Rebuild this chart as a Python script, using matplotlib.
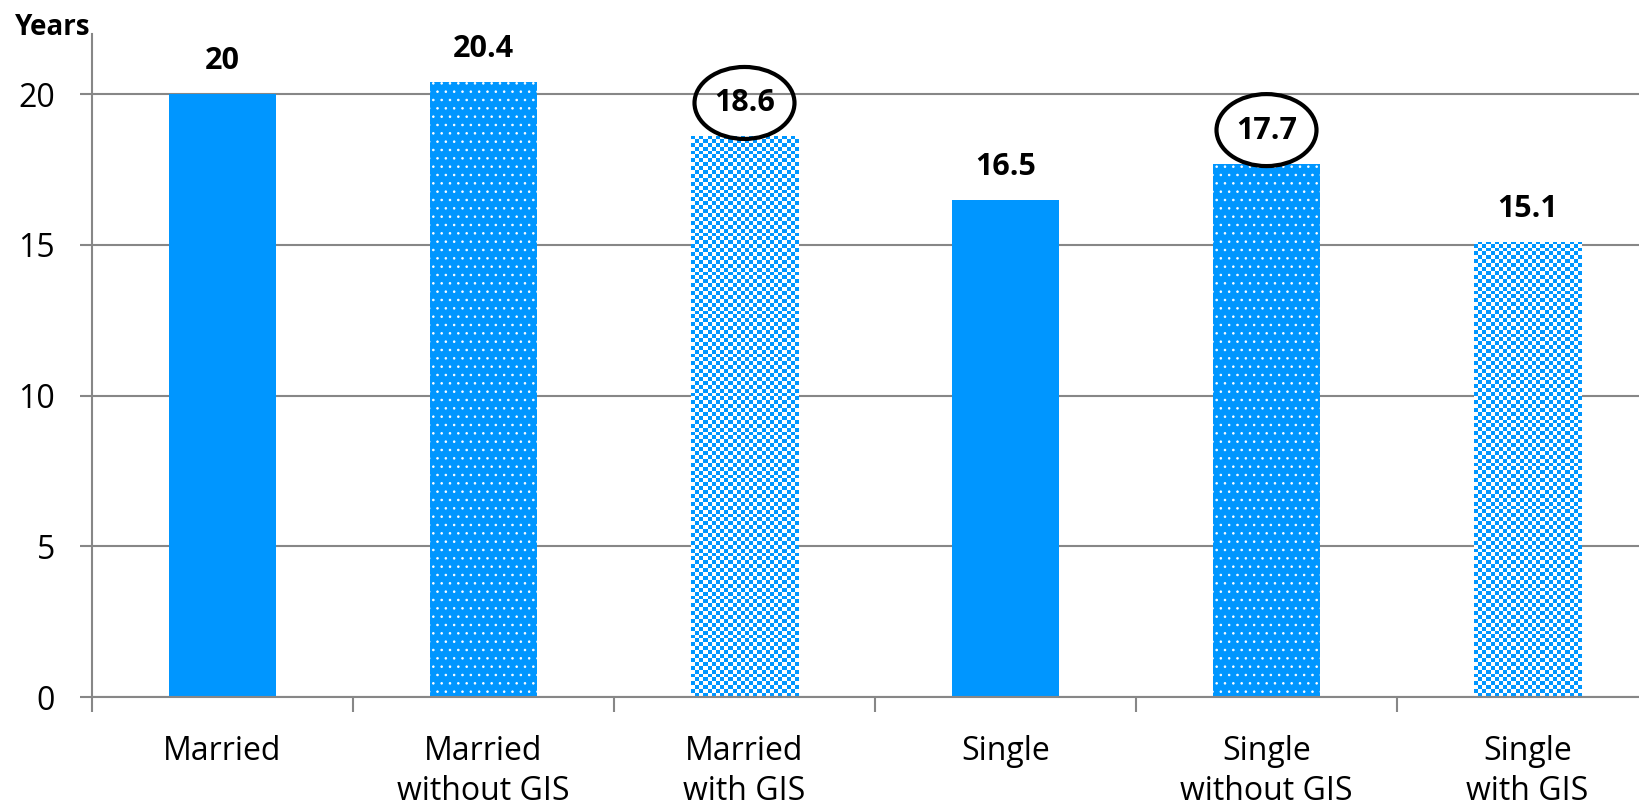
import numpy as np
import matplotlib
matplotlib.use("Agg")
import matplotlib.pyplot as plt
from matplotlib.colors import ListedColormap
from matplotlib.patches import Ellipse
from matplotlib.transforms import ScaledTranslation

plt.rcParams['font.family'] = ['Open Sans', 'DejaVu Sans']
plt.rcParams['hatch.linewidth'] = 0.6

categories = ["Married", "Married\nwithout GIS", "Married\nwith GIS",
              "Single", "Single\nwithout GIS", "Single\nwith GIS"]
years = [20, 20.4, 18.6, 16.5, 17.7, 15.1]
fills = ["solid", "dots", "checker", "solid", "dots", "checker"]
circled = [False, False, True, False, True, False]

BLUE = "#0096FF"
GREY = "#878787"

fig = plt.figure(figsize=(16.4, 8.09), dpi=100)
ax = fig.add_axes([92 / 1640, 112 / 809, 1566 / 1640, 663 / 809])

x = np.arange(len(categories))
bar_w = 0.41
ax.set_xlim(-0.5, len(categories) - 0.5)
ax.set_ylim(0, 22)

# checker cell height in data units (about 4 px)
cell_h = 3.9 / (663 / 22)
checker_cmap = ListedColormap(["white", BLUE])

for xi, val, kind in zip(x, years, fills):
    if kind == "solid":
        ax.bar(xi, val, width=bar_w, color=BLUE, linewidth=0, zorder=2)
    elif kind == "dots":
        ax.bar(xi, val, width=bar_w, color=BLUE, edgecolor="white",
               hatch="..", linewidth=0, zorder=2)
    else:
        bar = ax.bar(xi, val, width=bar_w, color="none", linewidth=0, zorder=2)[0]
        ncols = 26
        nrows = int(np.ceil(val / cell_h))
        grid = (np.add.outer(np.arange(nrows), np.arange(ncols)) % 2)
        im = ax.imshow(grid, cmap=checker_cmap, interpolation="nearest",
                       extent=(xi - bar_w / 2, xi + bar_w / 2, 0, nrows * cell_h),
                       aspect="auto", origin="lower", zorder=2)
        im.set_clip_path(bar)

ax.set_xlim(-0.5, len(categories) - 0.5)
ax.set_ylim(0, 22)

# value labels, some circled
for xi, val, ring in zip(x, years, circled):
    ax.annotate(f"{val:g}", (xi, val), xytext=(0, 18), textcoords="offset points",
                ha="center", va="baseline", fontsize=22, fontweight="bold", zorder=4)
    if ring:
        trans = fig.dpi_scale_trans + ScaledTranslation(xi, val, ax.transData)
        ax.add_patch(Ellipse((0, 0.335), 1.0, 0.72, transform=trans, fill=False,
                             edgecolor="black", linewidth=3, zorder=4,
                             clip_on=False))

ax.set_yticks([0, 5, 10, 15, 20])
ax.yaxis.grid(True, color=GREY, linewidth=1.5, zorder=0)
ax.set_axisbelow(True)
ax.tick_params(axis="y", length=8.6, width=1.5, color=GREY, pad=18, labelsize=23)

ax.set_xticks(x, categories)
ax.set_xticks(np.arange(-0.5, len(categories)), minor=True)
ax.tick_params(axis="x", which="major", length=0, pad=27, labelsize=23)
ax.tick_params(axis="x", which="minor", length=11, width=1.5, color=GREY)
for lab in ax.get_xticklabels():
    lab.set_linespacing(1.3)

for side in ["top", "right"]:
    ax.spines[side].set_visible(False)
for side in ["left", "bottom"]:
    ax.spines[side].set_color(GREY)
    ax.spines[side].set_linewidth(1.5)

fig.text(15 / 1640, 1 - 35 / 809, "Years", fontsize=20, fontweight="bold",
         ha="left", va="baseline")

fig.savefig("out.png", dpi=100)
